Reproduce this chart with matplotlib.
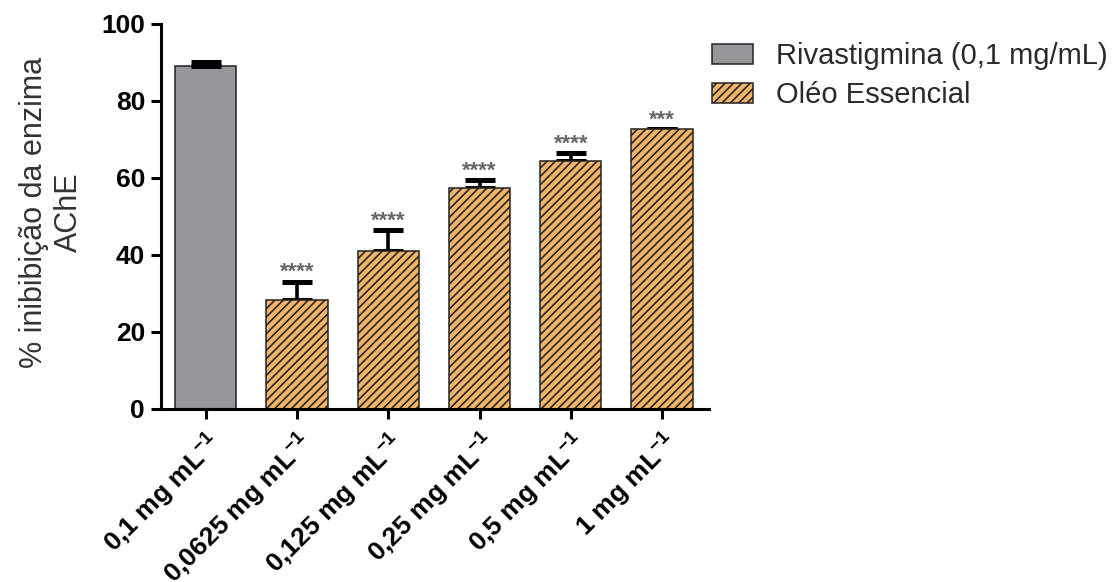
import matplotlib
matplotlib.use("Agg")
import matplotlib.pyplot as plt
import numpy as np

plt.rcParams['font.family'] = ['Liberation Sans', 'DejaVu Sans']
plt.rcParams['mathtext.default'] = 'regular'
plt.rcParams['hatch.linewidth'] = 1.15

categories = ["0,1 mg mL$^{-1}$", "0,0625 mg mL$^{-1}$", "0,125 mg mL$^{-1}$",
              "0,25 mg mL$^{-1}$", "0,5 mg mL$^{-1}$", "1 mg mL$^{-1}$"]
riva_value = [89.0]
riva_err = [1.0]
oil_values = [28.3, 41.0, 57.5, 64.4, 72.7]
oil_errs = [4.8, 5.5, 2.0, 2.0, 0.0]
signif = ["****", "****", "****", "****", "***"]

fig = plt.figure(figsize=(11.15, 5.82), dpi=100)
ax = fig.add_axes([0.1444, 0.2973, 0.4915, 0.6615])

x = np.arange(len(categories))
w = 0.67
gray = "#96979b"
orange = "#f1b468"

ax.bar(x[:1], riva_value, width=w, color=gray, edgecolor="#222222", linewidth=1.1,
       label="Rivastigmina (0,1 mg/mL)", zorder=2)
ax.errorbar(x[:1], riva_value, yerr=[[0], riva_err], fmt='none', ecolor='black',
            elinewidth=2.6, capsize=10.8, capthick=3.6, zorder=3)
ax.bar(x[1:], oil_values, width=w, color=orange, edgecolor="#222222", linewidth=1.1,
       hatch="////", label="Oléo Essencial", zorder=2)
ax.errorbar(x[1:], oil_values, yerr=[[0]*len(oil_errs), oil_errs], fmt='none',
            ecolor='black', elinewidth=2.6, capsize=10.8, capthick=3.6, zorder=1)

for xi, v, e, s in zip(x[1:], oil_values, oil_errs, signif):
    ax.annotate(s, (xi, v + e), xytext=(0, 2.5), textcoords='offset points',
                ha='center', va='baseline', fontsize=16, fontweight='bold', color='#666666')

ax.set_xlim(-0.49, 5.515)
ax.set_ylim(0, 100)
ax.set_yticks([0, 20, 40, 60, 80, 100])
ax.set_xticks(x)
ax.set_xticklabels(categories, rotation=45, ha='right', rotation_mode='anchor',
                   fontsize=19, fontweight='bold')
for lab in ax.get_yticklabels():
    lab.set_fontweight('bold')
    lab.set_fontsize(19)
ax.tick_params(axis='both', width=2.2, length=7.5, color='black')
ax.tick_params(axis='x', pad=6)
ax.tick_params(axis='y', pad=4)
ax.spines['top'].set_visible(False)
ax.spines['right'].set_visible(False)
ax.spines['left'].set_linewidth(2.2)
ax.spines['bottom'].set_linewidth(2.2)
ax.set_ylabel("% inibibição da enzima\nAChE", fontsize=22, color='#333333',
              linespacing=1.25)
ax.yaxis.set_label_coords(-0.14, 0.51)

leg = fig.legend(loc='upper left', bbox_to_anchor=(0.6386, 0.928), frameon=False,
                 fontsize=21, handlelength=1.42, handleheight=0.68, handletextpad=0.78,
                 labelspacing=0.38, borderpad=0, borderaxespad=0)
for t in leg.get_texts():
    t.set_color('#2a2a2a')

fig.savefig("out.png", dpi=100)
